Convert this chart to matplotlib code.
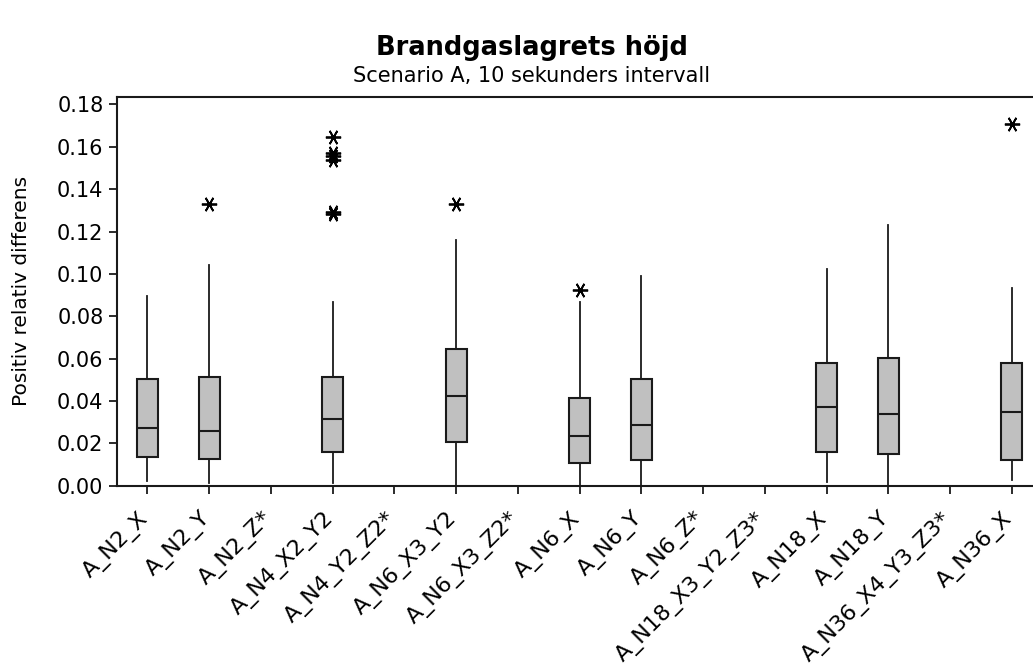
import matplotlib
matplotlib.use("Agg")
import matplotlib.pyplot as plt
from matplotlib.transforms import ScaledTranslation

labels = ["A_N2_X", "A_N2_Y", "A_N2_Z*", "A_N4_X2_Y2", "A_N4_Y2_Z2*",
          "A_N6_X3_Y2", "A_N6_X3_Z2*", "A_N6_X", "A_N6_Y", "A_N6_Z*",
          "A_N18_X3_Y2_Z3*", "A_N18_X", "A_N18_Y", "A_N36_X4_Y3_Z3*", "A_N36_X"]

# five-number summaries per group (None = no data for that group)
whislo = [0.002, 0.0013, None, 0.0013, None, 0.0, None, 0.0, 0.0, None, None, 0.0016, 0.0, None, 0.0028]
q1 = [0.0136, 0.0128, None, 0.0159, None, 0.0205, None, 0.0107, 0.0123, None, None, 0.0159, 0.0151, None, 0.0123]
med = [0.0273, 0.0257, None, 0.0317, None, 0.0422, None, 0.0233, 0.0287, None, None, 0.0370, 0.0340, None, 0.0346]
q3 = [0.0504, 0.0514, None, 0.0514, None, 0.0647, None, 0.0414, 0.0504, None, None, 0.0580, 0.0603, None, 0.0580]
whishi = [0.0895, 0.1040, None, 0.0866, None, 0.1158, None, 0.0866, 0.0992, None, None, 0.1024, 0.1233, None, 0.0934]
outliers = [[], [0.1328], [], [0.1646, 0.1572, 0.1556, 0.1536, 0.1292, 0.1281], [],
            [0.1331], [], [0.0926], [], [], [], [], [], [], [0.1709]]

plt.rcParams['font.family'] = ['DejaVu Sans']

fig = plt.figure(figsize=(10.33, 6.70), dpi=100)
ax = fig.add_axes([0.1129, 0.2751, 0.8965, 0.5801])

stats = []
pos = []
for i in range(len(labels)):
    if med[i] is None:
        continue
    stats.append(dict(med=med[i], q1=q1[i], q3=q3[i], whislo=whislo[i],
                      whishi=whishi[i], fliers=outliers[i]))
    pos.append(i + 1)

ax.bxp(stats, positions=pos, widths=0.335, patch_artist=True, showcaps=False,
       boxprops=dict(facecolor="#c0c0c0", edgecolor="#1a1a1a", linewidth=1.5),
       medianprops=dict(color="#1a1a1a", linewidth=1.5),
       whiskerprops=dict(color="#1a1a1a", linewidth=1.3),
       flierprops=dict(marker=(6, 2, 90), markersize=11, markeredgewidth=1.3,
                       markeredgecolor="black", markerfacecolor="black"))

ax.set_xlim(0.5, len(labels) + 0.5)
ax.set_ylim(0, 0.1835)
ax.set_yticks([0.00, 0.02, 0.04, 0.06, 0.08, 0.10, 0.12, 0.14, 0.16, 0.18])
ax.set_yticklabels([f"{v:.2f}" for v in ax.get_yticks()])
ax.tick_params(axis="both", width=1.3, length=6, color="#1a1a1a")
ax.tick_params(axis="y", labelsize=15)
ax.tick_params(axis="x", pad=10)
ax.set_xticks(range(1, len(labels) + 1))
ax.set_xticklabels(labels, rotation=45, ha="right", va="top", rotation_mode="anchor", fontsize=16)
# nudge the slanted labels a little to the left of their ticks
shift = ScaledTranslation(-7 / 72, 0, fig.dpi_scale_trans)
for tick in ax.xaxis.get_major_ticks():
    tick.label1.set_transform(tick.label1.get_transform() + shift)
for s in ax.spines.values():
    s.set_linewidth(1.5)
    s.set_color("#1a1a1a")

ax.set_ylabel("Positiv relativ differens", fontsize=14.5)
ax.yaxis.set_label_coords(-0.092, 0.5)

fig.text(0.515, 0.918, "Brandgaslagrets höjd", ha="center", va="baseline",
         fontsize=18.5, fontweight="bold")
fig.text(0.515, 0.878, "Scenario A, 10 sekunders intervall", ha="center", va="baseline",
         fontsize=15)

fig.savefig("out.png", dpi=100, facecolor="white")
